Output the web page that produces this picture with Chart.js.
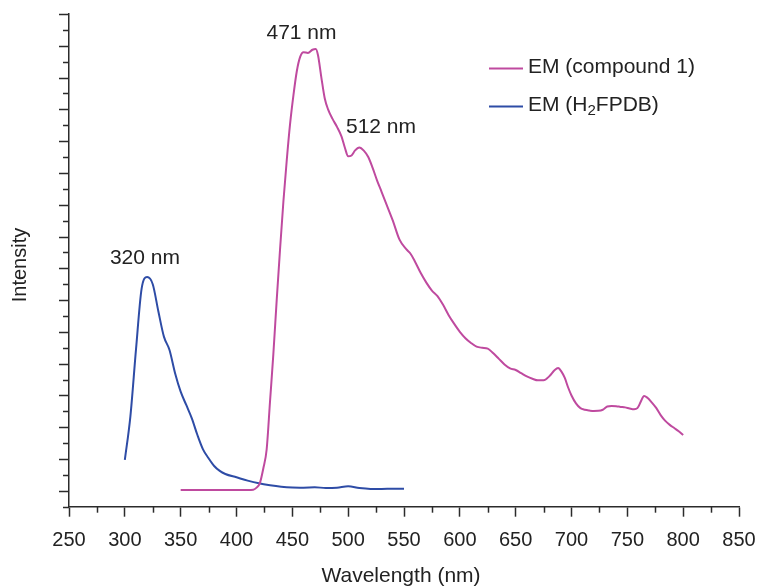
<!DOCTYPE html>
<html>
<head>
<meta charset="utf-8">
<script src="https://cdn.jsdelivr.net/npm/chart.js@4"></script>
<style>
	html, body { margin: 0; padding: 0; background: #fff; }
	canvas { display: block; }
</style>
</head>
<body>
<canvas id="chart" width="758" height="586"></canvas>
<script>
// EM (compound 1)
const waveCompound = [350, 360, 370, 380, 390, 400, 410, 415, 418, 421, 424, 427, 430, 433, 436, 439, 442, 445, 448, 451, 454, 457, 460, 464, 468, 471, 473, 476, 479, 482, 486, 490, 494, 497, 500, 503, 506, 510, 514, 518, 522, 526, 530, 535, 540, 546, 552, 556, 560, 565, 570, 575, 580, 585, 590, 595, 600, 605, 610, 615, 620, 625, 630, 635, 640, 645, 650, 655, 660, 665, 670, 675, 680, 685, 688, 691, 694, 697, 700, 704, 708, 712, 716, 720, 724, 728, 732, 736, 740, 744, 748, 752, 756, 759, 762, 765, 768, 772, 776, 780, 784, 788, 792, 796, 800];
const intCompound = [1.05, 1.05, 1.05, 1.05, 1.05, 1.05, 1.05, 1.07, 1.2, 1.5, 2.4, 3.6, 6.6, 9.6, 13.0, 16.2, 19.2, 21.8, 24.1, 25.9, 27.4, 28.3, 28.6, 28.55, 28.75, 28.8, 28.4, 27.0, 25.7, 25.0, 24.4, 23.9, 23.3, 22.6, 22.05, 22.1, 22.4, 22.6, 22.4, 22.0, 21.3, 20.5, 19.8, 18.9, 18.0, 16.8, 16.2, 15.9, 15.4, 14.7, 14.1, 13.6, 13.25, 12.7, 12.05, 11.5, 11.0, 10.6, 10.3, 10.07, 10.0, 9.95, 9.65, 9.3, 8.95, 8.7, 8.6, 8.4, 8.2, 8.05, 7.95, 7.95, 8.2, 8.6, 8.72, 8.5, 8.1, 7.5, 7.0, 6.5, 6.2, 6.1, 6.05, 6.02, 6.03, 6.1, 6.3, 6.33, 6.32, 6.28, 6.25, 6.18, 6.13, 6.2, 6.6, 6.97, 6.85, 6.55, 6.2, 5.75, 5.4, 5.15, 4.95, 4.75, 4.51];

// EM (H2FPDB)
const waveLigand = [300, 305, 310, 315, 320, 325, 330, 335, 340, 345, 350, 355, 360, 365, 370, 375, 380, 385, 390, 400, 410, 420, 430, 440, 450, 460, 470, 480, 490, 500, 510, 520, 530, 540, 550];
const intLigand = [2.94, 5.7, 9.9, 13.7, 14.45, 14.0, 12.3, 10.7, 9.86, 8.4, 7.24, 6.4, 5.56, 4.51, 3.61, 3.05, 2.56, 2.25, 2.06, 1.85, 1.64, 1.47, 1.35, 1.26, 1.21, 1.2, 1.22, 1.18, 1.2, 1.28, 1.17, 1.12, 1.12, 1.13, 1.13];

const seriesNames = ["EM (compound 1)", "EM (H2FPDB)"];
const xTickLabels = [250, 300, 350, 400, 450, 500, 550, 600, 650, 700, 750, 800, 850];
const peakLabels = ["471 nm", "512 nm", "320 nm"];

const pink = "#bf4a9f";
const blue = "#2e4ca6";
const ink = "#222222";
const axisCol = "#2b2b2b";

function toPoints(xs, ys) {
	return xs.map((x, i) => ({ x: x, y: ys[i] }));
}

const decor = {
	id: "decor",
	afterDraw(chart) {
		const ctx = chart.ctx;
		const xs = chart.scales.x;
		const ys = chart.scales.y;
		ctx.save();
		ctx.strokeStyle = axisCol;
		ctx.lineWidth = 1.5;

		// y ticks, major every other step
		for (let v = 0; v <= 31; v++) {
			const py = Math.round(ys.getPixelForValue(v)) + 0.5;
			const len = v % 2 === 1 ? 10 : 6;
			ctx.beginPath();
			ctx.moveTo(xs.left - len, py);
			ctx.lineTo(xs.left, py);
			ctx.stroke();
		}
		// x minor ticks
		for (let w = 275; w < 850; w += 50) {
			const px = Math.round(xs.getPixelForValue(w)) + 0.5;
			ctx.beginPath();
			ctx.moveTo(px, ys.bottom);
			ctx.lineTo(px, ys.bottom + 6);
			ctx.stroke();
		}

		ctx.fillStyle = ink;
		ctx.textAlign = "center";
		ctx.textBaseline = "middle";
		ctx.font = "21px 'Liberation Sans', Arial, sans-serif";
		ctx.fillText("Wavelength (nm)", 401, 576);

		ctx.save();
		ctx.translate(20, 265);
		ctx.rotate(-Math.PI / 2);
		ctx.font = "20px 'Liberation Sans', Arial, sans-serif";
		ctx.fillText("Intensity", 0, 0);
		ctx.restore();

		// peak labels
		ctx.font = "21px 'Liberation Sans', Arial, sans-serif";
		const peakPos = [[458.2, 29.77], [529.4, 23.9], [318, 15.65]];
		peakLabels.forEach((t, i) => {
			ctx.fillText(t, xs.getPixelForValue(peakPos[i][0]), ys.getPixelForValue(peakPos[i][1]));
		});

		// legend
		const items = [{ c: pink, y: 68.5 }, { c: blue, y: 106.5 }];
		ctx.textAlign = "left";
		ctx.lineWidth = 2;
		items.forEach((it, i) => {
			ctx.strokeStyle = it.c;
			ctx.beginPath();
			ctx.moveTo(489, it.y);
			ctx.lineTo(523, it.y);
			ctx.stroke();
		});
		ctx.fillStyle = ink;
		ctx.font = "21px 'Liberation Sans', Arial, sans-serif";
		ctx.fillText(seriesNames[0], 528, 67);
		let tx = 528;
		const ty = 105;
		ctx.fillText("EM (H", tx, ty);
		tx += ctx.measureText("EM (H").width;
		ctx.font = "15px 'Liberation Sans', Arial, sans-serif";
		ctx.fillText("2", tx, ty + 6);
		tx += ctx.measureText("2").width;
		ctx.font = "21px 'Liberation Sans', Arial, sans-serif";
		ctx.fillText("FPDB)", tx, ty);
		ctx.restore();
	}
};

new Chart(document.getElementById("chart").getContext("2d"), {
	type: "line",
	data: {
		datasets: [{
			label: seriesNames[0],
			data: toPoints(waveCompound, intCompound),
			borderColor: pink,
			borderWidth: 2,
			pointRadius: 0,
			cubicInterpolationMode: "monotone",
			fill: false
		}, {
			label: seriesNames[1],
			data: toPoints(waveLigand, intLigand),
			borderColor: blue,
			borderWidth: 2,
			pointRadius: 0,
			cubicInterpolationMode: "monotone",
			fill: false
		}]
	},
	options: {
		responsive: false,
		animation: false,
		layout: { padding: { top: 14, right: 19, left: 0, bottom: 0 } },
		plugins: {
			legend: { display: false },
			tooltip: { enabled: false }
		},
		scales: {
			x: {
				type: "linear",
				min: 250,
				max: 850,
				afterBuildTicks: s => { s.ticks = xTickLabels.map(v => ({ value: v })); },
				ticks: {
					color: ink,
					font: { size: 20, family: "'Liberation Sans', Arial, sans-serif" },
					padding: 12,
					maxRotation: 0,
					autoSkip: false
				},
				grid: {
					display: true,
					drawOnChartArea: false,
					drawTicks: true,
					tickLength: 10,
					tickColor: axisCol,
					tickWidth: 1.5
				},
				border: { display: true, color: axisCol, width: 1.5 },
				afterFit: s => {
					s.height = 79.3;
					s.paddingLeft = 0;
					s.paddingRight = 0;
				}
			},
			y: {
				min: 0,
				max: 31,
				ticks: { display: false, stepSize: 1 },
				grid: { display: false },
				border: { display: true, color: axisCol, width: 1.5 },
				afterFit: s => {
					s.width = 69;
					s.paddingTop = 0;
					s.paddingBottom = 0;
				}
			}
		}
	},
	plugins: [decor]
});
</script>
</body>
</html>
